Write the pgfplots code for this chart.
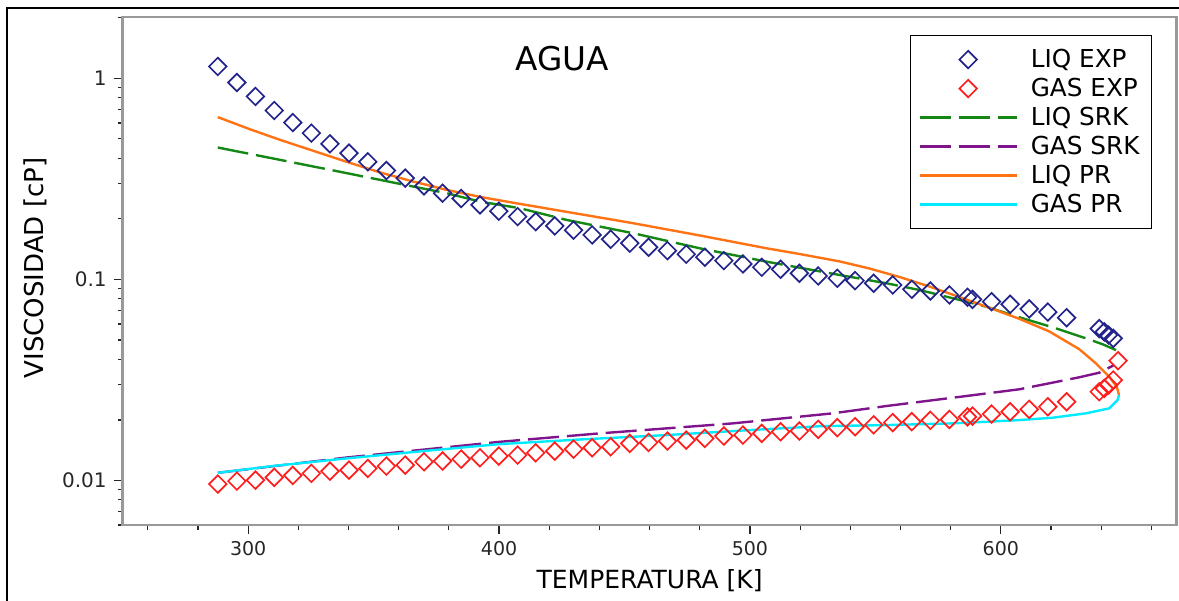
\documentclass[border=0pt]{standalone}
\usepackage{fontspec}
\setmainfont{DejaVu Sans}
\usepackage{pgfplots}
\pgfplotsset{compat=1.18}
\definecolor{liqexp}{RGB}{35,35,140}
\definecolor{gasexp}{RGB}{255,30,30}
\definecolor{liqsrk}{RGB}{20,135,20}
\definecolor{gassrk}{RGB}{128,20,140}
\definecolor{liqpr}{RGB}{255,115,20}
\definecolor{gaspr}{RGB}{0,235,255}
\pgfplotsset{
  leglin/.style={legend image code/.code={\draw[##1] (0bp,0bp) -- (48.5bp,0bp);}},
  legmark/.style={legend image code/.code={\draw[mark repeat=2,mark phase=2,##1] plot coordinates {(0bp,0bp) (24.25bp,0bp) (48.5bp,0bp)};}},
}
\begin{document}
\begin{tikzpicture}
\useasboundingbox (-61.35bp,-38bp) rectangle (528.15bp,262.5bp);
\begin{axis}[
  at={(0,0)}, anchor=south west,
  scale only axis, width=526.9bp, height=254bp,
  ymode=log, xmin=250, xmax=670, ymin=0.006, ymax=2.02,
  xtick={300,400,500,600}, xticklabels={300,400,500,600},
  minor xtick={260,280,320,340,360,380,420,440,460,480,520,540,560,580,620,640,660},
  ytick={0.01,0.1,1}, yticklabels={0.01,0.1,1},
  minor ytick={0.006,0.007,0.008,0.009,0.02,0.03,0.04,0.05,0.06,0.07,0.08,0.09,0.2,0.3,0.4,0.5,0.6,0.7,0.8,0.9,2},
  tick pos=left, tick align=outside,
  major tick length=4.5bp, minor tick length=2.5bp,
  tick style={color=black!85, line width=0.6bp},
  axis line style={draw=black!40, line width=1.2bp},
  xticklabel style={font=\fontsize{9.5bp}{11bp}\selectfont, color=black!85},
  yticklabel style={font=\fontsize{10bp}{12bp}\selectfont, color=black!85},
  xlabel={TEMPERATURA [K]}, ylabel={VISCOSIDAD [cP]},
  x label style={at={(axis description cs:0.5,-0.1102)}, anchor=center, font=\fontsize{12.5bp}{15bp}\selectfont},
  y label style={at={(axis description cs:-0.0832,0.506)}, anchor=center, font=\fontsize{13bp}{15bp}\selectfont},
  legend style={at={(rel axis cs:0.9768,0.9646)}, anchor=north east, draw=black, line width=0.6bp,
    font=\fontsize{12.35bp}{14bp}\selectfont, inner xsep=4bp, inner ysep=4.75bp, row sep=0bp,
    nodes={inner sep=2bp, text height=9bp, text depth=1.5bp},
    /tikz/every odd column/.append style={column sep=4.5bp}},
  legend cell align=left,
  clip=false,
]
\addplot[only marks, mark=square, mark size=3.1bp, mark options={rotate=45, draw=liqexp, line width=0.85bp}, legmark]
table {
287.9 1.146
295.5 0.954
302.9 0.813
310.4 0.692
317.8 0.603
325.2 0.534
332.6 0.4725
340.2 0.4248
347.7 0.3845
355.1 0.348
362.6 0.319
370.1 0.292
377.5 0.2685
384.9 0.2525
392.4 0.2348
399.9 0.2184
407.4 0.2053
414.6 0.1938
422.2 0.1845
429.7 0.1757
437.1 0.1665
444.5 0.1584
452.1 0.1514
459.6 0.1445
467.1 0.139
474.6 0.1334
482.0 0.1289
489.6 0.124
497.2 0.1194
504.7 0.1149
512.2 0.1123
519.7 0.1073
527.2 0.104
534.8 0.1013
541.9 0.0986
549.3 0.0957
556.9 0.0938
564.5 0.0893
571.9 0.0876
579.5 0.0837
586.7 0.0815
588.7 0.0796
596.3 0.0775
603.7 0.0752
611.3 0.0713
618.7 0.0688
626.2 0.0645
639.2 0.0569
641.2 0.0548
642.9 0.0529
644.8 0.0509
};
\addlegendentry{LIQ EXP}
\addplot[only marks, mark=square, mark size=3.1bp, mark options={rotate=45, draw=gasexp, line width=0.85bp}, legmark]
table {
287.9 0.00959
295.5 0.00992
302.9 0.01003
310.4 0.01035
317.8 0.01059
325.2 0.01084
332.6 0.01112
340.2 0.01125
347.7 0.01147
355.1 0.01178
362.6 0.01192
370.1 0.01238
377.5 0.01248
384.9 0.01276
392.4 0.01296
399.9 0.01321
407.4 0.01336
414.6 0.01372
422.2 0.01399
429.7 0.01431
437.1 0.01453
444.5 0.01470
452.1 0.01528
459.6 0.01546
467.1 0.01569
474.6 0.01587
482.0 0.01618
489.6 0.01662
497.2 0.01681
504.7 0.01714
512.2 0.01746
519.7 0.01760
527.2 0.01795
534.8 0.0183
541.9 0.0185
549.3 0.0189
556.9 0.0194
564.5 0.0196
571.9 0.0199
579.5 0.0201
586.7 0.0207
588.7 0.0209
596.3 0.02138
603.7 0.02196
611.3 0.02257
618.7 0.02325
626.2 0.02462
639.2 0.02761
641.2 0.02871
642.9 0.02982
644.8 0.03158
646.7 0.0394
};
\addlegendentry{GAS EXP}
\addplot[liqsrk, line width=1.2bp, dash pattern=on 15.5bp off 4bp, leglin]
table {
287.9 0.4529
312.7 0.3933
339.3 0.3377
365.8 0.2896
379.1 0.2685
392.4 0.2438
408.3 0.2260
426.9 0.1977
453.4 0.1698
479.9 0.1429
506.5 0.1226
535.7 0.1052
554.3 0.0957
567.5 0.0886
580.8 0.0806
594.1 0.0732
607.3 0.0648
620.6 0.0578
633.9 0.0509
640.5 0.0476
645.9 0.0445
};
\addlegendentry{LIQ SRK}
\addplot[gassrk, line width=1.2bp, dash pattern=on 15.5bp off 4bp, leglin]
table {
287.9 0.01091
339.3 0.0130
400.3 0.01556
440.1 0.01714
466.7 0.01815
493.2 0.01922
533.0 0.02156
554.3 0.02344
580.8 0.02578
607.3 0.02839
631.2 0.03258
639.2 0.03434
645.2 0.03751
};
\addlegendentry{GAS SRK}
\addplot[liqpr, line width=1.2bp, leglin]
table {
287.9 0.6416
300.8 0.5579
312.7 0.4946
326.0 0.4360
339.3 0.3845
352.5 0.3408
365.8 0.3067
379.1 0.2789
392.4 0.2573
408.3 0.2375
426.9 0.2168
453.4 0.1904
479.9 0.1655
506.5 0.1429
519.7 0.1338
535.7 0.1229
547.6 0.1133
559.6 0.1028
571.5 0.0922
583.4 0.0818
595.4 0.0723
607.3 0.0637
619.3 0.0551
631.2 0.0450
637.9 0.0382
643.2 0.0328
646.2 0.0292
647.1 0.0266
};
\addlegendentry{LIQ PR}
\addplot[gaspr, line width=1.2bp, leglin]
table {
647.1 0.0266
646.5 0.02511
643.2 0.02283
633.9 0.02156
620.6 0.02050
607.3 0.01996
594.1 0.01958
580.8 0.01922
554.3 0.01885
527.7 0.0186
500.0 0.0178
466.7 0.01681
433.0 0.0160
400.3 0.01516
370.0 0.0140
339.3 0.01287
310.0 0.0118
287.9 0.01091
};
\addlegendentry{GAS PR}
\node[font=\fontsize{16.35bp}{19bp}\selectfont, anchor=center] at (rel axis cs:0.417,0.919) {AGUA};
\end{axis}
\draw[line width=0.75bp] (-57.85bp,-40bp) -- (-57.85bp,258.5bp) -- (530bp,258.5bp);
\end{tikzpicture}
\end{document}
